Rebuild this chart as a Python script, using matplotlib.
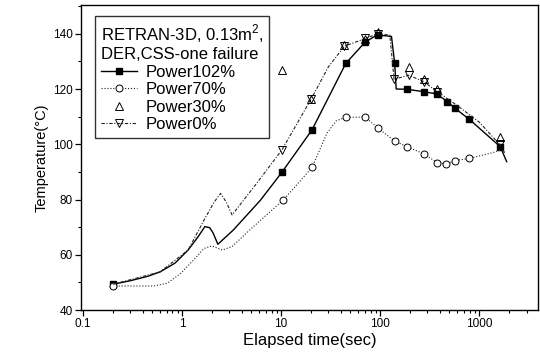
import matplotlib
matplotlib.use('Agg')
import matplotlib.pyplot as plt
from matplotlib.ticker import LogLocator, MultipleLocator, FixedLocator, FixedFormatter

plt.rcParams['font.family'] = ['Liberation Sans', 'DejaVu Sans']
plt.rcParams['mathtext.fontset'] = 'custom'
plt.rcParams['mathtext.rm'] = 'Liberation Sans'

# Power 102% (solid, filled squares)
p102_t = [0.2, 0.3, 0.45, 0.6, 0.85, 1.15, 1.45, 1.7, 1.9, 2.05, 2.3, 3.3, 6.2, 10.2, 20.5, 45,
          71, 94, 130, 140, 145, 186, 278, 372, 477, 570, 795, 1630, 1890]
p102_T = [49.3, 50.6, 52.2, 53.8, 57.0, 61.7, 66.5, 70.2, 69.8, 68.0, 63.8, 69.0, 79.8, 89.9, 105.2, 129.3,
          137.1, 139.6, 139.0, 129.3, 120.0, 119.9, 119.0, 118.2, 115.4, 113.0, 109.0, 99.1, 93.7]
p102_mark = [0, 13, 14, 15, 16, 17, 19, 21, 22, 23, 24, 25, 26, 27]

# Power 70% (dotted, open circles)
p70_t = [0.2, 0.52, 0.71, 0.97, 1.3, 1.67, 2.0, 2.55, 3.2, 5.0, 10.5, 20.5, 29, 36, 45,
         71, 95, 140, 186, 278, 376, 466, 575, 795, 1380, 1650, 1800]
p70_T = [48.7, 48.7, 49.7, 53.3, 58.0, 62.3, 63.2, 61.7, 63.0, 69.5, 79.8, 91.6, 104.0, 108.5, 109.8,
         109.8, 105.8, 101.2, 99.1, 96.5, 93.3, 92.9, 94.1, 94.9, 97.0, 98.0, 97.0]
p70_mark = [0, 10, 11, 14, 15, 16, 17, 18, 19, 20, 21, 22, 23]

# Power 30% (markers only, open up-triangles)
p30_t = [10.2, 20.1, 43.5, 71, 94, 194, 274, 378, 1600]
p30_T = [127.0, 116.4, 136.0, 138.0, 140.5, 128.0, 123.5, 120.0, 102.8]

# Power 0% (dash-dot, open down-triangles)
p0_t = [0.2, 0.6, 1.15, 1.67, 2.1, 2.45, 2.8, 3.2, 5.7, 10.2, 20.1, 30, 43.5, 71, 94,
        125, 138, 194, 274, 378, 600, 1000, 1600, 1800]
p0_T = [49.3, 53.8, 61.7, 72.6, 79.0, 82.2, 79.0, 74.4, 86.0, 98.0, 116.4, 128.0, 135.5, 138.3, 140.0,
        139.5, 123.5, 125.0, 122.7, 119.0, 114.0, 108.0, 100.0, 97.0]
p0_mark = [9, 10, 12, 13, 14, 16, 17, 18, 19, 22]

fig = plt.figure(figsize=(5.4, 3.58), dpi=100)
ax = fig.add_axes([0.15, 0.134, 0.846, 0.852])

ax.plot(p102_t, p102_T, color='black', lw=1.0, marker='s', ms=4.5, mfc='black', mec='black',
        markevery=p102_mark, label='Power102%')
ax.plot(p70_t, p70_T, color='#222222', lw=0.8, ls=':', marker='o', ms=5, mfc='white', mec='black',
        mew=0.7, markevery=p70_mark, label='Power70%')
ax.plot(p30_t, p30_T, ls='none', marker='^', ms=5.5, mfc='none', mec='black', mew=0.7, label='Power30%')
ax.plot(p0_t, p0_T, color='#222222', lw=0.8, ls=(0, (3, 1.5, 1, 1.5)), marker='v', ms=5.5, mfc='none',
        mec='black', mew=0.7, markevery=p0_mark, label='Power0%')

ax.set_xscale('log')
ax.set_xlim(0.0955, 3900)
ax.set_ylim(40, 150.4)

ax.xaxis.set_major_locator(FixedLocator([0.1, 1, 10, 100, 1000]))
ax.xaxis.set_major_formatter(FixedFormatter(['0.1', '1', '10', '100', '1000']))
ax.xaxis.set_minor_locator(LogLocator(base=10, subs=range(2, 10), numticks=20))
ax.yaxis.set_major_locator(MultipleLocator(20))
ax.yaxis.set_minor_locator(MultipleLocator(10))

ax.tick_params(which='major', direction='out', length=4, width=0.9, labelsize=8.5, pad=2,
               top=False, right=False)
ax.tick_params(which='minor', direction='out', length=2.5, width=0.8, top=False, right=False)
for s in ax.spines.values():
    s.set_linewidth(1.0)

ax.set_xlabel('Elapsed time(sec)', fontsize=12, labelpad=2)
ax.set_ylabel('Temperature(\u00b0C)', fontsize=10.5, labelpad=3)

leg = ax.legend(loc='upper left', bbox_to_anchor=(0.012, 0.99),
                title='RETRAN-3D, 0.13m$^2$,\nDER,CSS-one failure',
                fontsize=12, title_fontsize=12, frameon=True, fancybox=False,
                handlelength=2.2, handletextpad=0.5, labelspacing=0.15, borderpad=0.35,
                alignment='left')
leg.get_frame().set_edgecolor('black')
leg.get_frame().set_linewidth(1.0)

fig.savefig('out.png', dpi=100)
